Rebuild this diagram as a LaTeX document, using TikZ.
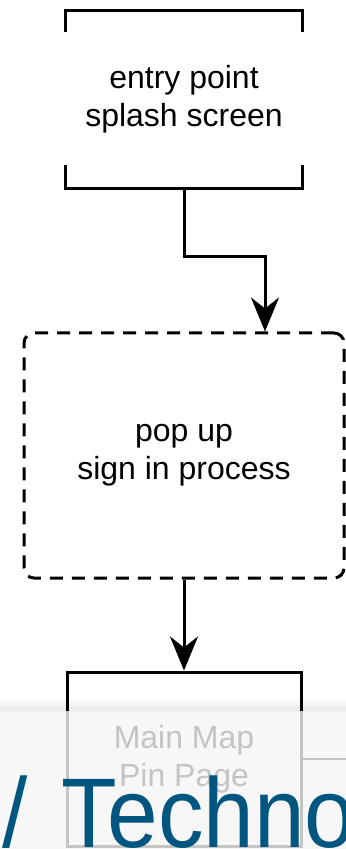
\documentclass[tikz,border=0pt]{standalone}
\usepackage{fontspec}
\usetikzlibrary{arrows.meta}
\setmainfont{Liberation Sans}
\newfontfamily\bigfont[FakeStretch=0.92]{Liberation Sans}
\definecolor{techblue}{HTML}{00567F}
\definecolor{panelgray}{HTML}{F5F5F5}
\begin{document}
\begin{tikzpicture}[x=.5pt,y=-.5pt,line width=1.5pt,font=\fontsize{16}{19}\selectfont,
  box/.style={align=center,minimum width=117pt},
  arr/.style={-{Stealth[length=17pt,width=14pt,inset=5.5pt]}}]
\useasboundingbox (0,0) rectangle (346,849);
\clip (0,0) rectangle (346,849);
\shade[top color=white,bottom color=black!9] (0,697) rectangle (346,711);
% entry point, drawn as two brackets
\node[box,minimum height=87.5pt] (entry) at (184,99.5) {entry point\\splash screen};
\draw ([yshift=-11pt]entry.north west) -- (entry.north west) -- (entry.north east) -- ([yshift=-11pt]entry.north east);
\draw ([yshift=11.5pt]entry.south west) -- (entry.south west) -- (entry.south east) -- ([yshift=11.5pt]entry.south east);
\node[box,draw,dashed,dash pattern=on 6.5pt off 4.5pt,rounded corners=5pt,minimum width=160pt,minimum height=122.5pt] (popup) at (184,455.5) {pop up\\sign in process};
\node[box,draw,minimum height=87pt] (mainmap) at (184,759) {Main Map\\Pin Page};
\coordinate (mapout) at (350,759);
\draw[arr] (entry.south) -- ++(0,68) -| ([xshift=40.5pt]popup.north);
\draw[arr] (popup.south) -- (mainmap.north);
\draw[line width=1pt] (mainmap.east) -- (mapout);
% page in front
\fill[panelgray,fill opacity=.8] (0,711) rectangle (346,849);
\node[anchor=base west,inner sep=0,text=techblue,font=\bigfont\fontsize{49.5}{50}\selectfont] (tech) at (1,847) {/\hspace{17pt}Technology};
\end{tikzpicture}
\end{document}
